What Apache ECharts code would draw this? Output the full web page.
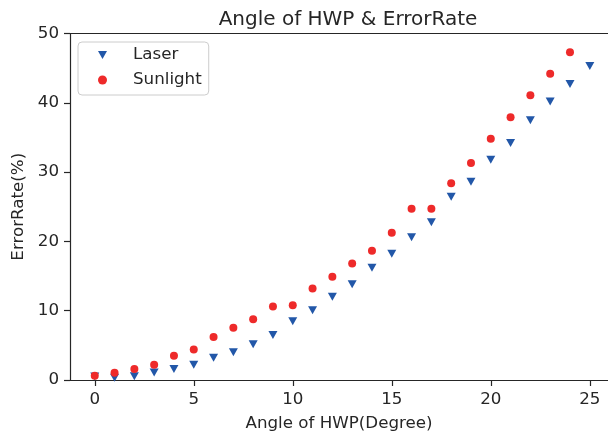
<!DOCTYPE html>
<html>
<head>
<meta charset="utf-8">
<script src="https://cdn.jsdelivr.net/npm/echarts@6/dist/echarts.min.js"></script>
<style>html,body{margin:0;padding:0;background:#fff}#c{width:608px;height:438px}</style>
</head>
<body>
<div id="c"></div>
<script>
const angles = [0,1,2,3,4,5,6,7,8,9,10,11,12,13,14,15,16,17,18,19,20,21,22,23,24,25];
const laser = [0.5,0.33,0.53,1.1,1.6,2.2,3.2,4.0,5.15,6.5,8.47,10.05,12.0,13.8,16.2,18.2,20.6,22.75,26.45,28.6,31.8,34.2,37.5,40.2,42.7,45.3];
const sunlightAngles = [0,1,2,3,4,5,6,7,8,9,10,11,12,13,14,15,16,17,18,19,20,21,22,23,24];
const sunlight = [0.6,1.05,1.6,2.2,3.5,4.4,6.2,7.55,8.75,10.6,10.8,13.2,14.9,16.8,18.66,21.25,24.7,24.7,28.4,31.3,34.8,37.9,41.1,44.2,47.3];
const xTicks = [0,5,10,15,20,25];
const yTicks = [0,10,20,30,40,50];

const font = 'DejaVu Sans';
const txt = '#262626';
const axisCol = '#262626';
const chart = echarts.init(document.getElementById('c'));
chart.setOption({
  animation: false,
  title: {
    text: 'Angle of HWP & ErrorRate',
    left: 343, top: 5, textAlign: 'center',
    textStyle: {fontFamily: font, fontSize: 20, fontWeight: 'normal', color: txt}
  },
  legend: {
    orient: 'vertical',
    left: 78, top: 42,
    padding: [3, 7, 5, 20],
    itemWidth: 9, itemHeight: 9,
    itemGap: 5,
    borderColor: '#cccccc', borderWidth: 1, borderRadius: 4,
    textStyle: {fontFamily: font, fontSize: 16.7, color: txt, lineHeight: 20, padding: [0,0,0,21]},
    data: [
      {name: 'Laser', icon: 'path://M0,0L10,0L5,8.7Z'},
      {name: 'Sunlight', icon: 'circle'}
    ]
  },
  grid: {left: 70, top: 33.5, right: 0, height: 346.5, show: false},
  xAxis: [{
    type: 'value', min: -1.25, max: 25.92,
    name: 'Angle of HWP(Degree)', nameLocation: 'middle', nameGap: 35,
    nameTextStyle: {fontFamily: font, fontSize: 16.7, color: txt},
    axisLine: {show: true, onZero: false, lineStyle: {color: axisCol, width: 1.2}},
    axisTick: {show: true, length: 6, customValues: xTicks, lineStyle: {color: axisCol, width: 1.2}},
    axisLabel: {customValues: xTicks, margin: 11, fontFamily: font, fontSize: 16.7, color: txt},
    splitLine: {show: false}
  }, {
    type: 'value', position: 'top', min: -1.25, max: 25.92,
    axisLine: {show: true, onZero: false, lineStyle: {color: axisCol, width: 1.2}},
    axisTick: {show: false}, axisLabel: {show: false}, splitLine: {show: false}
  }],
  yAxis: {
    type: 'value', min: 0, max: 50, interval: 10,
    name: 'ErrorRate(%)', nameLocation: 'middle', nameGap: 38,
    nameTextStyle: {fontFamily: font, fontSize: 16.7, color: txt},
    axisLine: {show: true, onZero: false, lineStyle: {color: axisCol, width: 1.2}},
    axisTick: {show: true, length: 6, customValues: yTicks, lineStyle: {color: axisCol, width: 1.2}},
    axisLabel: {customValues: yTicks, margin: 11, fontFamily: font, fontSize: 16.7, color: txt},
    splitLine: {show: false}
  },
  series: [
    {
      name: 'Laser', type: 'scatter',
      symbol: 'triangle', symbolRotate: 180, symbolSize: [9, 8],
      itemStyle: {color: '#2257a8', opacity: 1},
      data: angles.map((a, i) => [a, laser[i]]),
      z: 2
    },
    {
      name: 'Sunlight', type: 'scatter',
      symbol: 'circle', symbolSize: 8,
      itemStyle: {color: '#ee2a2a', opacity: 1},
      data: sunlightAngles.map((a, i) => [a, sunlight[i]]),
      z: 3
    }
  ]
});
</script>
</body>
</html>
